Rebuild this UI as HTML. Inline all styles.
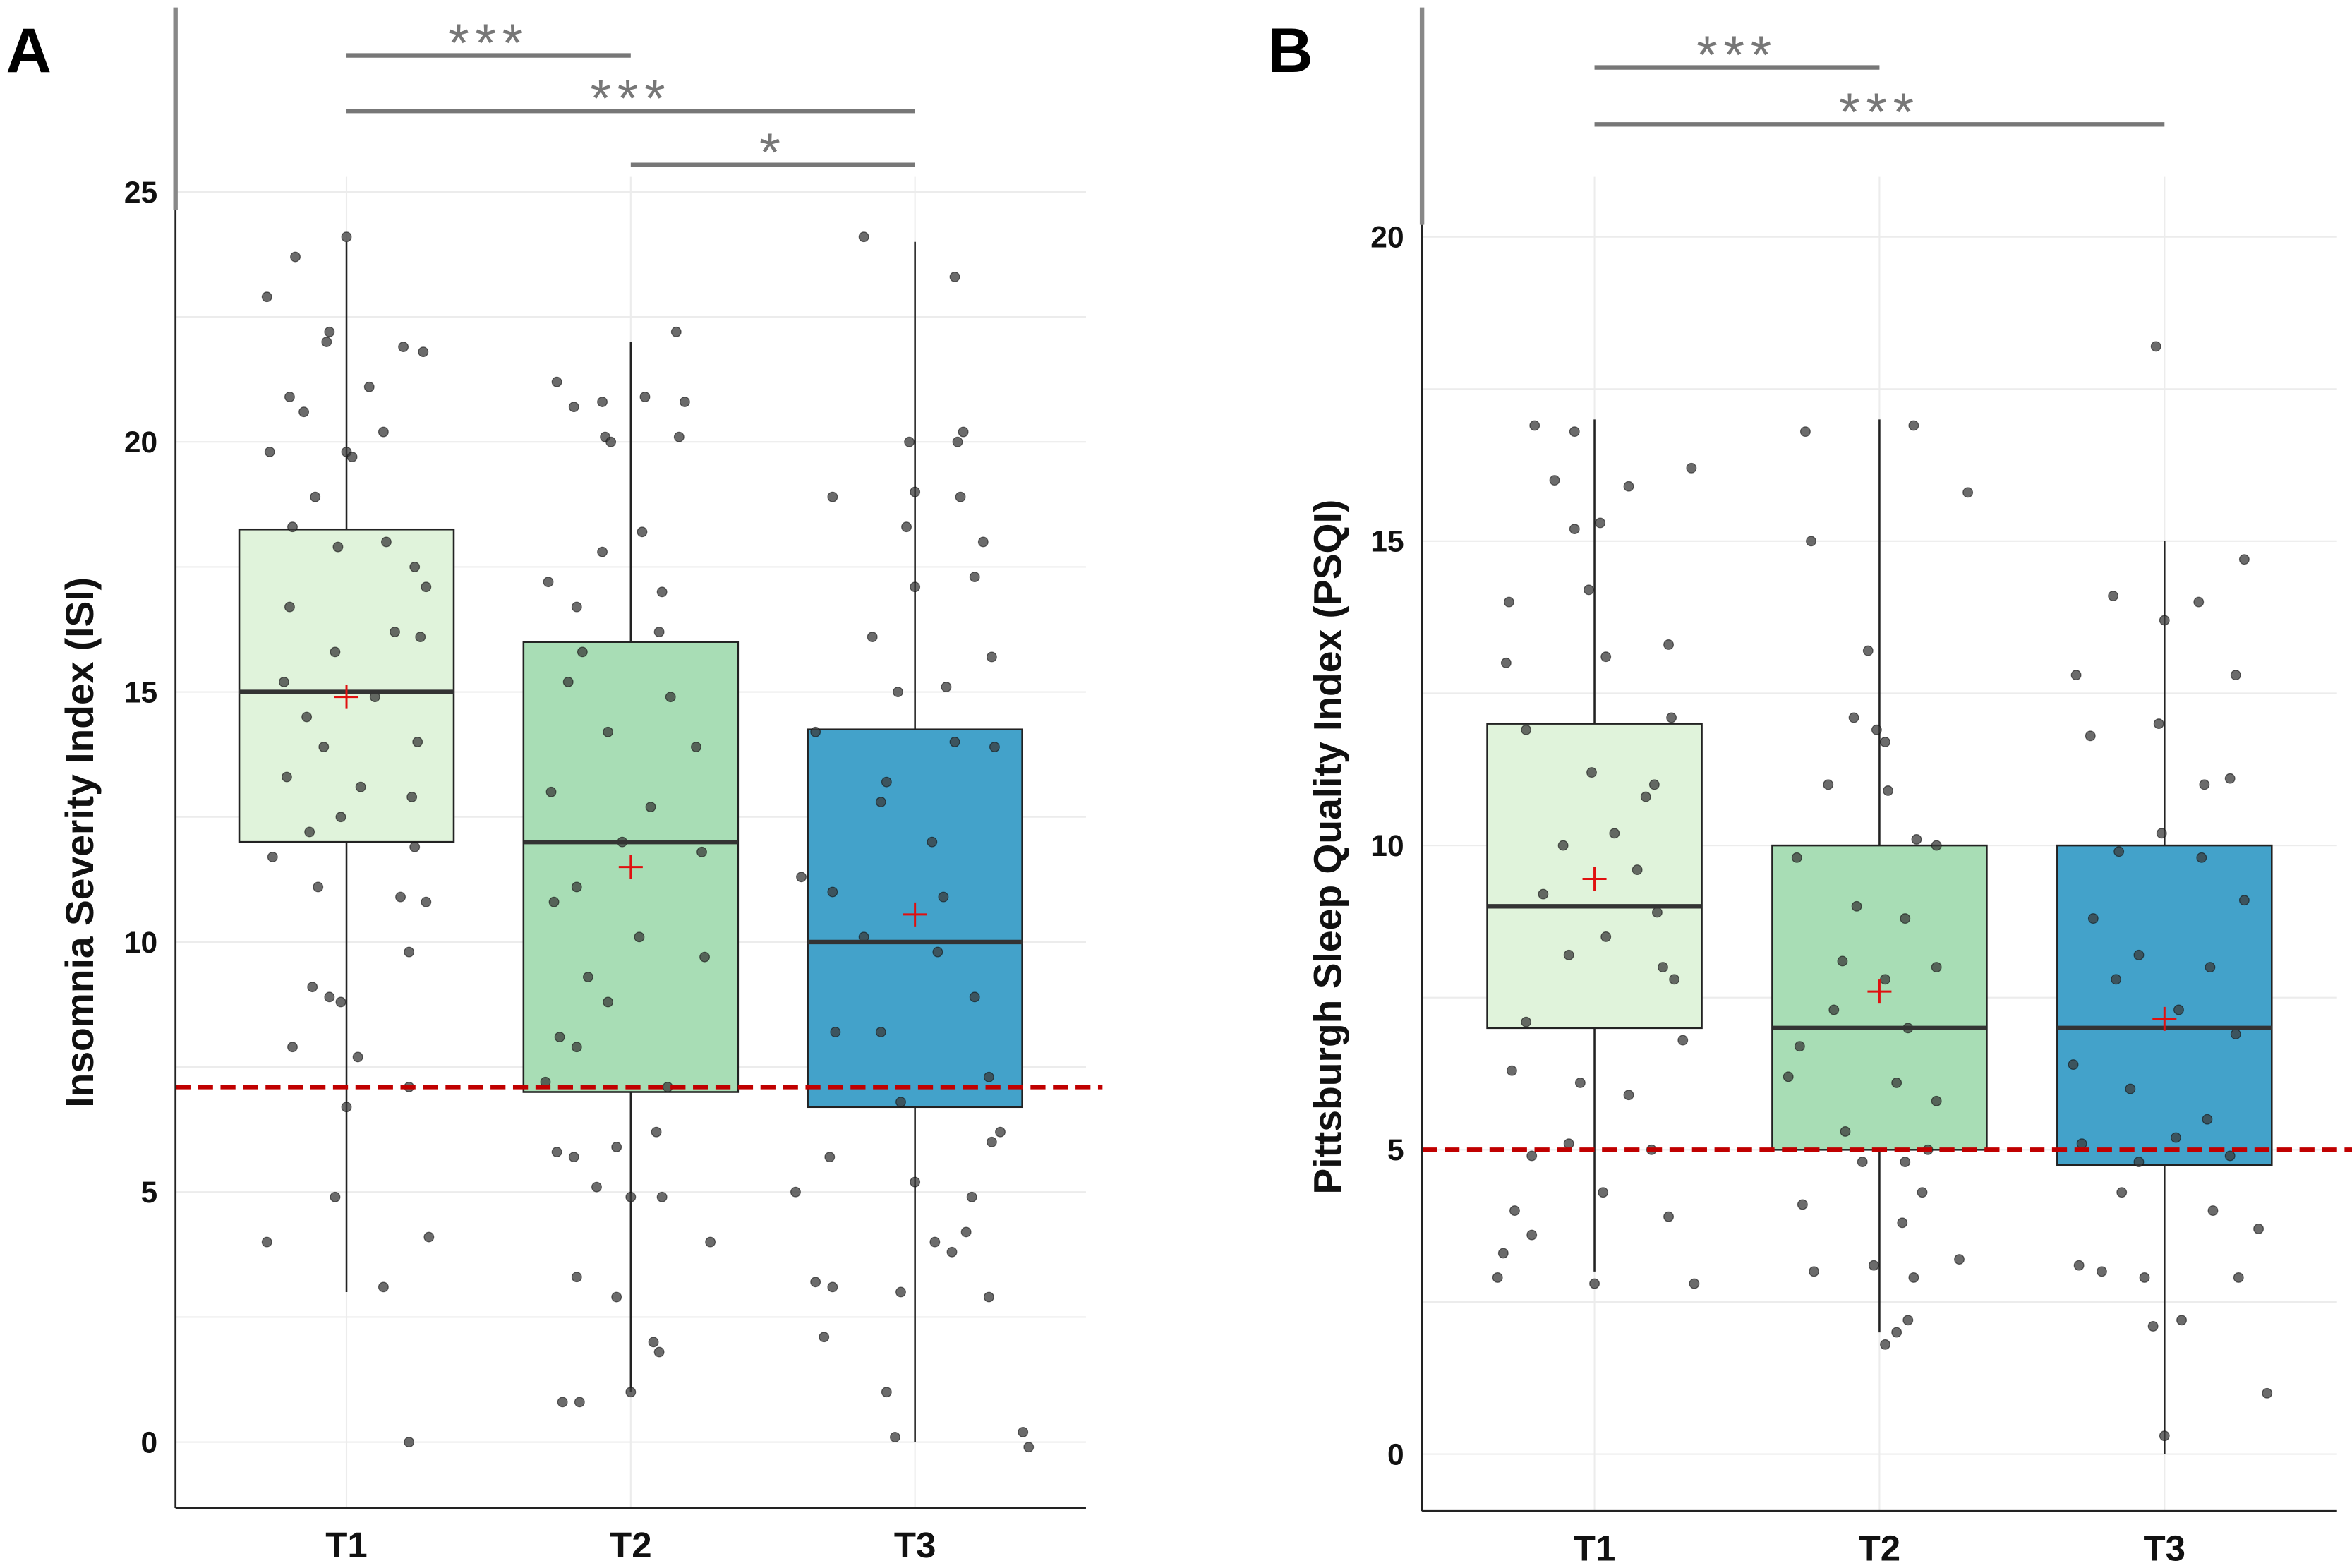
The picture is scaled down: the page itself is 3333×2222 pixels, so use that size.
<!DOCTYPE html>
<html><head><meta charset="utf-8"><style>
html,body{margin:0;padding:0;background:#fff}
svg{display:block}
text{font-family:"Liberation Sans",Arial,sans-serif}
</style></head><body>
<svg id="chart" width="3333" height="2222" viewBox="0 0 1568 1046" preserveAspectRatio="none" xmlns="http://www.w3.org/2000/svg"></svg>
<script>
const categories = ["T1","T2","T3"];
// box stats: [lowWhisker, q1, median, q3, highWhisker, mean]
const isiStats = [[3,12,15,18.25,24,14.9],[1,7,12,16,22,11.5],[0,6.7,10,14.25,24,10.55]];
const psqiStats = [[3,7,9,12,17,9.45],[2,5,7,10,17,7.6],[0,4.75,7,10,15,7.15]];
// points: [value, jitter in category units]
const isiT1 = [[24.1,0],[23.7,-.18],[22.9,-.28],[22.2,-.06],[22.0,-.07],[21.9,.2],[21.8,.27],[21.1,.08],[20.9,-.2],[20.6,-.15],[20.2,.13],[19.8,-.27],[19.8,0],[19.7,.02],[18.9,-.11],[18.3,-.19],[18.0,.14],[17.9,-.03],[17.5,.24],[17.1,.28],[16.7,-.2],[16.2,.17],[16.1,.26],[15.8,-.04],[15.2,-.22],[14.9,.1],[14.5,-.14],[14.0,.25],[13.9,-.08],[13.3,-.21],[13.1,.05],[12.9,.23],[12.5,-.02],[12.2,-.13],[11.9,.24],[11.7,-.26],[11.1,-.1],[10.9,.19],[10.8,.28],[9.8,.22],[9.1,-.12],[8.9,-.06],[8.8,-.02],[7.9,-.19],[7.7,.04],[7.1,.22],[6.7,0],[4.9,-.04],[4.1,.29],[4.0,-.28],[3.1,.13],[0.0,.22]];
const isiT2 = [[22.2,.16],[21.2,-.26],[20.9,.05],[20.8,-.1],[20.8,.19],[20.7,-.2],[20.1,-.09],[20.1,.17],[20.0,-.07],[18.2,.04],[17.8,-.1],[17.2,-.29],[17.0,.11],[16.7,-.19],[16.2,.1],[15.8,-.17],[15.2,-.22],[14.9,.14],[14.2,-.08],[13.9,.23],[13.0,-.28],[12.7,.07],[12.0,-.03],[11.8,.25],[11.1,-.19],[10.8,-.27],[10.1,.03],[9.7,.26],[9.3,-.15],[8.8,-.08],[8.1,-.25],[7.9,-.19],[7.2,-.3],[7.1,.13],[6.2,.09],[5.8,-.26],[5.7,-.2],[5.9,-.05],[5.1,-.12],[4.9,0],[4.9,.11],[4.0,.28],[3.3,-.19],[2.9,-.05],[2.0,.08],[1.8,.1],[0.8,-.24],[0.8,-.18],[1.0,0]];
const isiT3 = [[24.1,-.18],[23.3,.14],[20.2,.17],[20.0,-.02],[20.0,.15],[19.0,0],[18.9,.16],[18.9,-.29],[18.3,-.03],[18.0,.24],[17.3,.21],[17.1,0],[16.1,-.15],[15.7,.27],[15.1,.11],[15.0,-.06],[14.2,-.35],[14.0,.14],[13.9,.28],[13.2,-.1],[12.8,-.12],[12.0,.06],[11.3,-.4],[11.0,-.29],[10.9,.1],[10.1,-.18],[9.8,.08],[8.9,.21],[8.2,-.28],[8.2,-.12],[7.3,.26],[6.8,-.05],[6.2,.3],[6.0,.27],[5.7,-.3],[5.2,0],[5.0,-.42],[4.9,.2],[4.2,.18],[4.0,.07],[3.8,.13],[3.2,-.35],[3.1,-.29],[3.0,-.05],[2.9,.26],[2.1,-.32],[1.0,-.1],[0.1,-.07],[0.2,.38],[-0.1,.4]];
const psqiT1 = [[16.9,-.21],[16.8,-.07],[16.2,.34],[16.0,-.14],[15.9,.12],[15.3,.02],[15.2,-.07],[14.2,-.02],[14.0,-.3],[13.3,.26],[13.1,.04],[13.0,-.31],[12.1,.27],[11.9,-.24],[11.2,-.01],[11.0,.21],[10.8,.18],[10.2,.07],[10.0,-.11],[9.6,.15],[9.2,-.18],[8.9,.22],[8.5,.04],[8.2,-.09],[8.0,.24],[7.8,.28],[7.1,-.24],[6.8,.31],[6.3,-.29],[6.1,-.05],[5.9,.12],[5.1,-.09],[5.0,.2],[4.9,-.22],[4.3,.03],[4.0,-.28],[3.9,.26],[3.6,-.22],[3.3,-.32],[2.9,-.34],[2.8,0],[2.8,.35]];
const psqiT2 = [[16.9,.12],[16.8,-.26],[15.8,.31],[15.0,-.24],[13.2,-.04],[12.1,-.09],[11.9,-.01],[11.7,.02],[11.0,-.18],[10.9,.03],[10.1,.13],[10.0,.2],[9.8,-.29],[9.0,-.08],[8.8,.09],[8.1,-.13],[8.0,.2],[7.8,.02],[7.3,-.16],[7.0,.1],[6.7,-.28],[6.2,-.32],[6.1,.06],[5.8,.2],[5.3,-.12],[5.0,.17],[4.8,-.06],[4.8,.09],[4.3,.15],[4.1,-.27],[3.8,.08],[3.2,.28],[3.1,-.02],[3.0,-.23],[2.9,.12],[2.2,.1],[2.0,.06],[1.8,.02]];
const psqiT3 = [[18.2,-.03],[14.7,.28],[14.1,-.18],[14.0,.12],[13.7,0],[12.8,.25],[12.8,-.31],[12.0,-.02],[11.8,-.26],[11.1,.23],[11.0,.14],[10.2,-.01],[9.9,-.16],[9.8,.13],[9.1,.28],[8.8,-.25],[8.2,-.09],[8.0,.16],[7.8,-.17],[7.3,.05],[6.9,.25],[6.4,-.32],[6.0,-.12],[5.5,.15],[5.2,.04],[5.1,-.29],[4.9,.23],[4.8,-.09],[4.3,-.15],[4.0,.17],[3.7,.33],[3.1,-.3],[3.0,-.22],[2.9,-.07],[2.9,.26],[2.2,.06],[2.1,-.04],[1.0,.36],[0.3,0]];
const isiTicks = [0,5,10,15,20,25];
const psqiTicks = [0,5,10,15,20];
const fills = ["#e0f3db","#a8ddb5","#43a2ca"];

const NS="http://www.w3.org/2000/svg";
const svg=document.getElementById('chart');
function mk(tag,attrs,parent){const e=document.createElementNS(NS,tag);for(const k in attrs)e.setAttribute(k,attrs[k]);(parent||svg).appendChild(e);return e;}

function panel(cfg){
  const g=mk('g',{});
  
  
  const y=v=>cfg.y0+(cfg.y1-cfg.y0)*(v-cfg.vmin0)/(cfg.vmax1-cfg.vmin0);
  const x=i=>cfg.xs+i*cfg.step;
  for(let v=cfg.gridMin;v<=cfg.gridMax;v+=cfg.minor){
    const gl=mk('line',{x1:cfg.left,x2:cfg.right,y1:y(v),y2:y(v),stroke:'#ececec','stroke-width':1},g);
    
    
  }
  categories.forEach((c,i)=>{
    const vl=mk('line',{x1:x(i),x2:x(i),y1:cfg.gridTop,y2:cfg.bottom,stroke:'#ececec','stroke-width':1},g);
    
    
  });
  cfg.stats.forEach((s,i)=>{
    const w=mk('line',{x1:x(i),x2:x(i),y1:y(s[0]),y2:y(s[4]),stroke:'#222','stroke-width':1.2},g);
    
    
    const b=mk('rect',{x:x(i)-71.5,y:y(s[3]),width:143,height:y(s[1])-y(s[3]),fill:fills[i],stroke:'#222','stroke-width':1.2},g);
    
    
  });
  cfg.pts.forEach((arr,i)=>arr.forEach(p=>{
    const c=mk('circle',{cx:x(i)+p[1]*cfg.step,cy:y(p[0]),r:3.2,fill:'#3a3a3a','fill-opacity':0.75,stroke:'#111','stroke-opacity':0.6,'stroke-width':0.6},g);
    
    
  }));
  cfg.stats.forEach((s,i)=>{
    const m=mk('line',{x1:x(i)-71.5,x2:x(i)+71.5,y1:y(s[2]),y2:y(s[2]),stroke:'#333','stroke-width':3},g);
    
    
    const mm=mk('path',{d:`M${x(i)-8},${y(s[5])}h16M${x(i)},${y(s[5])-8}v16`,stroke:'#e01010','stroke-width':1.4},g);
    
    
  });
  const th=mk('line',{x1:cfg.left,x2:cfg.threshEnd,y1:y(cfg.thresh),y2:y(cfg.thresh),stroke:'#c00000','stroke-width':3,'stroke-dasharray':'10,5'},g);
  
  
  const ax=mk('line',{x1:cfg.left,x2:cfg.left,y1:cfg.axisTop,y2:cfg.bottom,stroke:'#222','stroke-width':1.3},g);
  
  
  const ax2=mk('line',{x1:cfg.left,x2:cfg.left,y1:5,y2:cfg.axisTop,stroke:'#888','stroke-width':3},g);
  
  
  const bx=mk('line',{x1:cfg.left,x2:cfg.right,y1:cfg.bottom,y2:cfg.bottom,stroke:'#222','stroke-width':1.3},g);
  
  
  cfg.ticks.forEach(v=>{
    const t=mk('text',{x:cfg.left-12,y:y(v)+7,'text-anchor':'end','font-size':20,'font-weight':'bold',fill:'#111'},g);
    t.textContent=v;
    
    
  });
  categories.forEach((c,i)=>{
    const t=mk('text',{x:x(i),y:cfg.bottom+33,'text-anchor':'middle','font-size':24,'font-weight':'bold',fill:'#111'},g);
    t.textContent=c;
    
    
  });
  const yt=mk('text',{x:0,y:0,transform:`translate(${cfg.titleX},${cfg.titleY}) rotate(-90)`,'text-anchor':'middle','font-size':26,'font-weight':'bold',fill:'#111'},g);
  yt.textContent=cfg.title;
  
  
  const pl=mk('text',{x:cfg.labelX,y:48,'font-size':42,'font-weight':'bold',fill:'#000'},g);
  pl.textContent=cfg.label;
  
  
  cfg.sig.forEach(s=>{
    const l=mk('line',{x1:x(s[0]),x2:x(s[1]),y1:s[2],y2:s[2],stroke:'#777','stroke-width':3},g);
    
    
    const t=mk('text',{x:(x(s[0])+x(s[1]))/2,y:s[2]+4,'text-anchor':'middle','font-size':36,fill:'#777','letter-spacing':'4'},g);
    t.textContent=s[3];
    
    
  });
}

panel({name:'panel-a',label:'A',labelX:4,left:117,right:724,bottom:1006,axisTop:140,gridTop:118,
  y0:962,y1:128,vmin0:0,vmax1:25,gridMin:0,gridMax:25,minor:2.5,xs:231,step:189.5,
  stats:isiStats,pts:[isiT1,isiT2,isiT3],ticks:isiTicks,thresh:7.1,threshEnd:735,
  title:'Insomnia Severity Index (ISI)',titleX:62,titleY:562,
  sig:[[0,1,37,'***'],[0,2,74,'***'],[1,2,110,'*']]});
panel({name:'panel-b',label:'B',labelX:845,left:948,right:1558,bottom:1008,axisTop:150,gridTop:118,
  y0:970,y1:158,vmin0:0,vmax1:20,gridMin:0,gridMax:20,minor:2.5,xs:1063,step:190,
  stats:psqiStats,pts:[psqiT1,psqiT2,psqiT3],ticks:psqiTicks,thresh:5,threshEnd:1568,
  title:'Pittsburgh Sleep Quality Index (PSQI)',titleX:894,titleY:565,
  sig:[[0,1,45,'***'],[0,2,83,'***']]});
</script>
</body></html>
